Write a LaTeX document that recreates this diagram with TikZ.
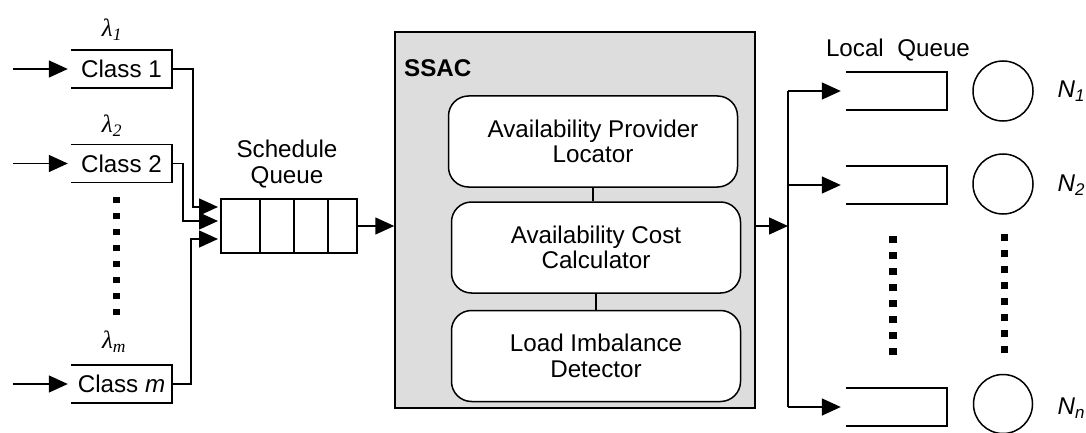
\documentclass[tikz,border=0pt]{standalone}
\usepackage{fontspec}
\setmainfont{Liberation Sans}
\newfontfamily\lamfont{Liberation Serif}
\usetikzlibrary{arrows.meta}
\definecolor{ssacgray}{HTML}{DDDDDD}
\begin{document}
\begin{tikzpicture}[x=1pt,y=-1pt,
  txt/.style={font=\fontsize{24.2}{25.5}\selectfont},
  qbox/.style={txt, minimum width=101pt, minimum height=38pt, inner sep=0pt},
  ln/.style={line width=1.5pt},
  arr/.style={line width=1.5pt, -{Triangle[length=19pt,width=17pt]}},
  module/.style={txt, draw, line width=1.5pt, fill=white, rounded corners=20pt,
    minimum width=289pt, minimum height=91pt, align=center, inner sep=0pt},
  srv/.style={draw, line width=1.5pt, circle, minimum size=60pt, inner sep=0pt},
  lam/.style={font=\fontsize{25}{27}\selectfont\lamfont\itshape}]
\useasboundingbox (0,0) rectangle (1086,433);

% class queues
\node[qbox] (c1) at (121.5,69) {Class 1};
\node[qbox] (c2) at (121.5,163.5) {Class 2};
\node[qbox] (cm) at (121.5,384) {Class \textit{m}};
\foreach \c in {c1,c2,cm}
  \draw[ln] (\c.north west) -- (\c.north east) -- (\c.south east) -- (\c.south west);
\foreach \c in {c1,c2,cm}
  \draw[arr, shorten >=3pt] (\c.west) ++(-58,0) -- (\c.west);

\node[lam] (l1) at (112,30) {λ\textsubscript{1}};
\node[lam] (l2) at (112,126) {λ\textsubscript{2}};
\node[lam] (lm) at (114,342) {λ\textsubscript{m}};

\foreach \k in {0,...,7} \fill (113,197+16*\k) rectangle ++(7,6);

% schedule queue
\node[draw, ln, minimum width=136pt, minimum height=54pt, inner sep=0pt] (sq) at (289,226) {};
\foreach \x in {260,294,328} \draw[ln] (\x,199) -- (\x,253);
\node[txt, align=center] (sql) at (287,164) {Schedule\\Queue};

\coordinate (i1) at (221,207);
\coordinate (i2) at (221,221);
\coordinate (i3) at (221,239);
\draw[arr, shorten >=3pt] (c1.east) -| ([xshift=-28pt]i1) -- (i1);
\draw[arr, shorten >=3pt] (c2.east) -| ([xshift=-38pt]i2) -- (i2);
\draw[arr, shorten >=3pt] (cm.east) -| ([xshift=-30pt]i3) -- (i3);

% SSAC
\node[draw, ln, fill=ssacgray, minimum width=360pt, minimum height=376pt, inner sep=0pt] (ssac) at (575,220) {};
\node[font={\fontsize{24.2}{25.5}\selectfont\bfseries}, anchor=west, inner sep=0pt] (ssacl) at (404,68) {SSAC};
\node[module] (m1) at (593,141.5) {Availability Provider\\Locator};
\node[module] (m2) at (596,247.5) {Availability Cost\\Calculator};
\node[module] (m3) at (596,356) {Load Imbalance\\Detector};
\draw[ln] (m1.south) -- (m1.south |- m2.north);
\draw[ln] (m2.south) -- (m3.north);

\draw[arr] (sq.east) -- (sq.east -| ssac.west);
\coordinate (split) at (788,226);
\draw[arr] (sq.east -| ssac.east) -- (split);

% local queues
\node[qbox] (q1) at (896.5,91) {};
\node[qbox] (q2) at (896.5,185) {};
\node[qbox] (qn) at (896.5,407) {};
\foreach \q in {q1,q2,qn}
  \draw[ln] (\q.north west) -- (\q.north east) -- (\q.south east) -- (\q.south west);
\draw[ln] (split |- q1.west) -- (split |- qn.west);
\foreach \q in {q1,q2,qn}
  \draw[arr, shorten >=5pt] (split |- \q.west) -- (\q.west);
\node[txt] (lq) at (898,50) {Local\ \ Queue};

% servers
\node[srv] (n1) at (1003,91) {};
\node[srv] (n2) at (1003,184) {};
\node[srv, minimum size=59pt] (nn) at (1003,404) {};
\node[txt, anchor=west] (n1l) at (1054,91) {\textit{N}\textsubscript{\textit{1}}};
\node[txt, anchor=west] (n2l) at (1054,185) {\textit{N}\textsubscript{\textit{2}}};
\node[txt, anchor=west] (nnl) at (1054,408) {\textit{N}\textsubscript{\textit{n}}};

\foreach \k in {0,...,7} {
  \fill (889,236+16*\k) rectangle ++(8,7);
  \fill (1001,234+16*\k) rectangle ++(7,7);
}
\end{tikzpicture}
\end{document}
